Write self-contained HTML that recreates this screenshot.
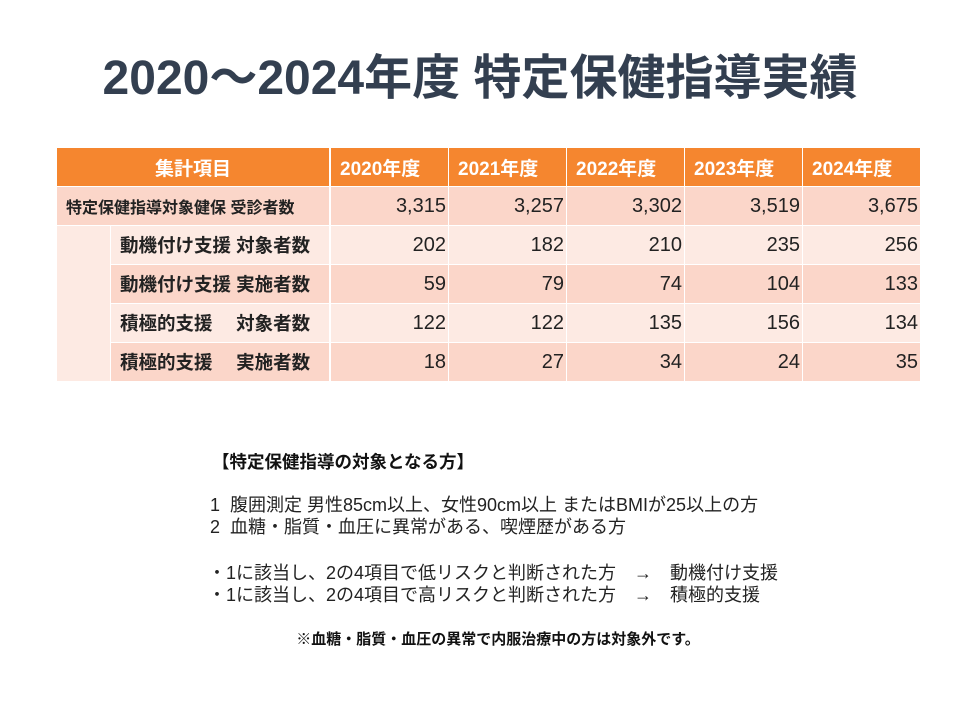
<!DOCTYPE html>
<html><head><meta charset="utf-8"><style>
body{margin:0;width:960px;height:720px;background:#fff;position:relative;overflow:hidden;font-family:"Liberation Sans","Noto Sans CJK JP",sans-serif;}
.a{position:absolute;box-sizing:border-box;}
.t{position:absolute;white-space:nowrap;}
.h{background:#F5862F;color:#fff;font-weight:bold;font-size:19px;display:flex;align-items:center;padding-left:9px;}
.c{display:flex;align-items:center;justify-content:flex-end;padding-right:2px;font-size:20px;color:#222;}
.d{background:#FBD6C9;}.l{background:#FDEAE3;}
.lab{display:flex;align-items:center;font-weight:bold;font-size:18.5px;color:#222;padding-left:9px;}
.n{font-size:18px;color:#222;}
</style></head><body>
<div class="t" style="left:0;width:960px;top:38px;text-align:center;font-size:48px;font-weight:bold;color:#333F50;">2020～2024年度 特定保健指導実績</div>
<div id="tbl"></div>
<div class="t" style="left:212px;top:449px;font-size:17.5px;font-weight:bold;color:#111;">【特定保健指導の対象となる方】</div>
<div class="t n" style="left:210px;top:491px;">1&nbsp; 腹囲測定 男性85cm以上、女性90cm以上 またはBMIが25以上の方</div>
<div class="t n" style="left:210px;top:513px;">2&nbsp; 血糖・脂質・血圧に異常がある、喫煙歴がある方</div>
<div class="t n" style="left:208px;top:559px;">・1に該当し、2の4項目で低リスクと判断された方　→　動機付け支援</div>
<div class="t n" style="left:208px;top:581px;">・1に該当し、2の4項目で高リスクと判断された方　→　積極的支援</div>
<div class="t" style="left:0;width:996px;top:628px;text-align:center;font-size:15px;font-weight:bold;color:#111;">※血糖・脂質・血圧の異常で内服治療中の方は対象外です。</div>
<script>
const years=["2020年度","2021年度","2022年度","2023年度","2024年度"];
const rowLabels=["特定保健指導対象健保 受診者数","動機付け支援 対象者数","動機付け支援 実施者数","積極的支援　 対象者数","積極的支援　 実施者数"];
const v0=["3,315","3,257","3,302","3,519","3,675"];
const v1=["202","182","210","235","256"];
const v2=["59","79","74","104","133"];
const v3=["122","122","135","156","134"];
const v4=["18","27","34","24","35"];
const vals=[v0,v1,v2,v3,v4];
const T=document.getElementById('tbl');
function box(x,y,w,h,cls,txt,name){const e=document.createElement('div');e.className='a '+cls;e.style.cssText=`left:${x}px;top:${y}px;width:${w}px;height:${h}px;`;if(txt!=null)e.textContent=txt;


T.appendChild(e);return e;}
const colX=[330,448,566,684,802],cw=117,rh=38,top0=148;
const hd=box(57,top0,272,rh,'h','集計項目','header-item');hd.style.justifyContent='center';hd.style.paddingLeft='0';
years.forEach((y,i)=>box(colX[i]+1,top0,cw,rh,'h',y,'header-year'));
box(57,226,53,155,'l',null,'merged-indent-cell');
rowLabels.forEach((lab,r)=>{
 const y=top0+rh+1+r*(rh+1);const cls=(r%2==0)?'d':'l';
 if(r==0){const e=box(57,y,272,rh,cls+' lab',lab,'row-label');e.style.fontSize='16px';}
 else box(111,y,218,rh,cls+' lab',lab,'row-label');
 vals[r].forEach((v,i)=>box(colX[i]+1,y,cw,rh,cls+' c',v,'value-cell'));
});
</script>
</body></html>
